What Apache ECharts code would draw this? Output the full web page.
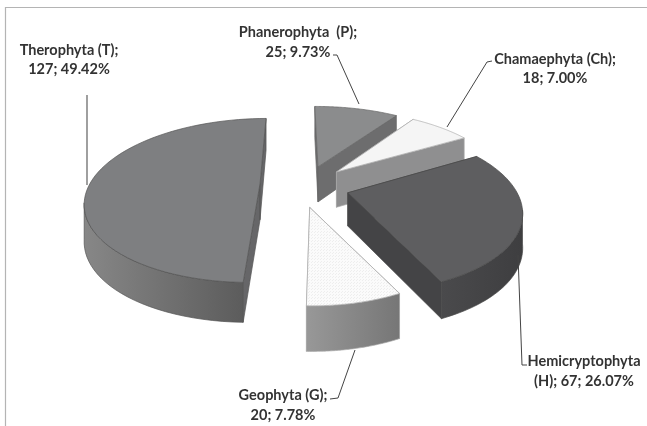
<!DOCTYPE html>
<html><head><meta charset="utf-8">
<style>html,body{margin:0;padding:0;background:#fff}#c{width:647px;height:426px}</style>
<script src="https://cdn.jsdelivr.net/npm/echarts@6/dist/echarts.min.js"></script>
</head><body><div id="c"></div>
<script>
// data, in drawing order (clockwise from the top)
const names = ['Phanerophyta (P)','Chamaephyta (Ch)','Hemicryptophyta (H)','Geophyta (G)','Therophyta (T)'];
const values = [25,18,67,20,127];
const labelLine1 = ['Phanerophyta  (P);','Chamaephyta (Ch);','Hemicryptophyta','Geophyta (G);','Therophyta (T);'];
const labelLine2 = ['25; 9.73%','18; 7.00%','(H); 67; 26.07%','20; 7.78%','127; 49.42%'];

// styles / layout
const topColors = ['#8b8c8d','#f5f5f5','#5e5e60','#f7f7f7','#7e7f81'];
const wallColors = ['#6d6d6e','#8f8f90','#444446','#8a8a8a','#666668'];
const outerA = ['#7a7a7a','#8f8f90','#4a4a4c','#989898','#878787'];
const outerB = ['#6a6a6a','#858585','#3e3e40','#767676','#5c5c5c'];
const edgeColors = ['#666','#aaa','#4a4a4a','#aaa','#555'];
const labelPos = [[298,32,52],[555,59,78],[584,361,381],[283,395,415],[69,50,69]];
const leaders = [
  [[333,55],[337,55],[359,104]],
  [[492,61],[487,62],[447,127]],
  [[518,255],[522,365],[527,365]],
  [[355,350],[338,398],[330,399]],
  [[87,95],[87,185]]
];
const leaderColors = ['#444','#444','#444','#444','#777'];
const CX=303, CY=188, R=172, KR=79.5, P=0.205, EXPLODE=0.25, START=-0.5, D0=36, DV=4;
// per-slice screen nudge, radius factor, end-edge angle and depth corrections for the reference's foreshortening
const nudges = [[3,-3],[3,-3],[3,-1],[-3,-1],[0,-4]];
const radiusScale = [1,1,0.97,0.9,0.99];
const endAngleFix = [0,0,2.5,0,0];
const depthFix = [0,0,-3,5,0];

const total = values.reduce((a,b)=>a+b,0);
function proj(u,v,z,n,i){
  const s = 1/(1-P*v);
  return [CX+n[0]+R*u*s, CY+n[1]+KR*v*s+(z?D0+DV*v+depthFix[i]:0)];
}
function dotPattern(){
  const c=document.createElement('canvas');c.width=c.height=3;
  const g=c.getContext('2d');g.fillStyle='#fbfbfb';g.fillRect(0,0,3,3);
  g.fillStyle='#eeeeee';g.fillRect(0,0,1,1);g.fillRect(2,1,1,1);
  return {image:c,repeat:'repeat'};
}
const pattern = dotPattern();
const rad = d=>d*Math.PI/180;

function slice(i){
  let a0=START; for(let k=0;k<i;k++) a0+=values[k]/total*360;
  const a1raw=a0+values[i]/total*360, m=(a0+a1raw)/2, a1=a1raw+endAngleFix[i], rs=radiusScale[i];
  const ou=EXPLODE*Math.sin(rad(m)), ov=-EXPLODE*Math.cos(rad(m)), n=nudges[i];
  const pt=(th,z)=>{const t=rad(th);return proj(ou+rs*Math.sin(t),ov-rs*Math.cos(t),z,n,i);};
  const t=[],fr=[],bk=[];
  for(let j=0;j<=64;j++){
    const th=a0+(a1-a0)*j/64;
    t.push(pt(th,0));
    if(-Math.cos(rad(th))>=P-0.02){fr.push(pt(th,0));bk.push(pt(th,1));}
  }
  const A=proj(ou,ov,0,n,i), Az=proj(ou,ov,1,n,i);
  const poly=(pts,fill)=>({type:'polygon',shape:{points:pts},style:{fill,stroke:edgeColors[i],lineWidth:0.7}});
  const grad=new echarts.graphic.LinearGradient(0,0,1,0,[{offset:0,color:outerA[i]},{offset:1,color:outerB[i]}]);
  const ch=[
    poly([A,t[0],pt(a0,1),Az],wallColors[i]),
    poly([A,t[t.length-1],pt(a1,1),Az],wallColors[i])
  ];
  if(fr.length>1) ch.push(poly(fr.concat(bk.reverse()),grad));
  ch.push(poly([A].concat(t),i===3?pattern:topColors[i]));
  return ch;
}
const chart = echarts.init(document.getElementById('c'),null,{renderer:'canvas'});
chart.setOption({
  animation:false,
  backgroundColor:'#fff',
  graphic:[{type:'polyline',silent:true,shape:{points:[[5.5,426],[5.5,7.5],[647,7.5]]},style:{stroke:'#b4b4b4',lineWidth:1.2,fill:null}}],
  series:[{
    type:'custom',coordinateSystem:'none',silent:true,clip:false,
    data:values.map((v,i)=>({name:names[i],value:[i,v]})),
    renderItem(params,api){
      const i=api.value(0), ch=slice(i);
      ch.push({type:'polyline',shape:{points:leaders[i]},style:{stroke:leaderColors[i],lineWidth:i===4?1.4:1,fill:null}});
      const lp=labelPos[i];
      [[labelLine1[i],lp[1]],[labelLine2[i],lp[2]]].forEach(([s,y])=>ch.push({type:'text',style:{
        text:s,x:lp[0],y,align:'center',verticalAlign:'middle',fill:'#333',
        font:'bold 14.5px Lato, "Open Sans", sans-serif'}}));
      return {type:'group',children:ch};
    }
  }]
});
</script></body></html>
